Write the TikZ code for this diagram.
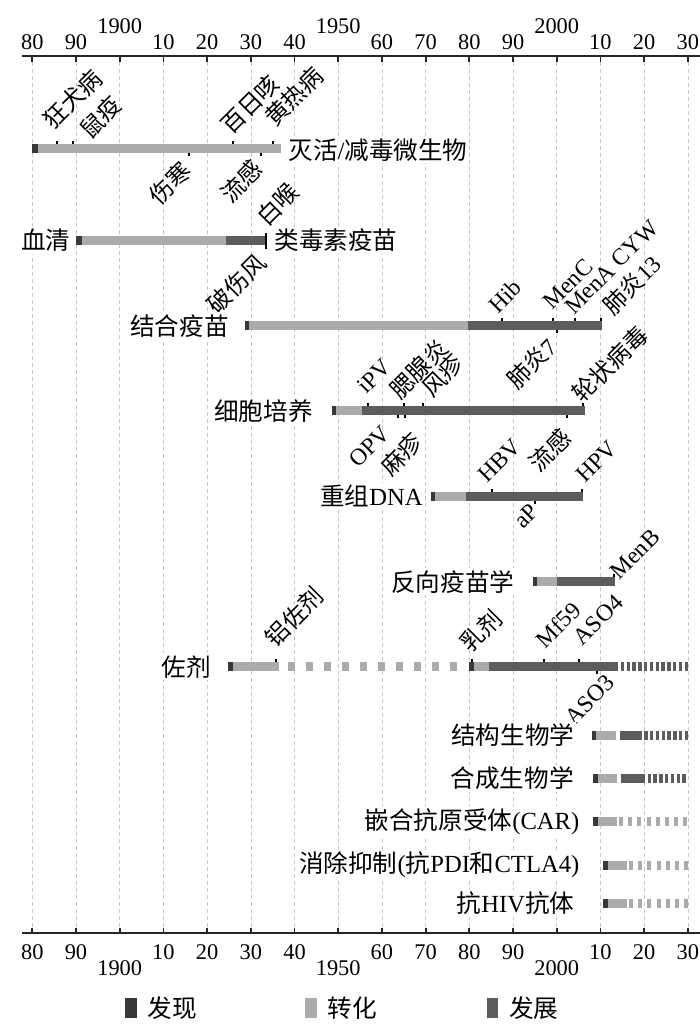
\documentclass[tikz,border=0pt]{standalone}
\usepackage{fontspec}
\setmainfont{Liberation Serif}
\newfontfamily\cjk{Noto Sans CJK SC}
\usetikzlibrary{positioning}
\definecolor{discC}{gray}{0.22}
\definecolor{transC}{gray}{0.67}
\definecolor{develC}{gray}{0.36}
\newcommand{\zh}[1]{{\cjk #1}}
\tikzset{
	row-label/.style={
		fill=white,
		inner sep=1pt,
		font=\fontsize{12.3}{14}\selectfont
	},
	event-label/.style={
		rotate=45,
		inner sep=0pt,
		font=\fontsize{11.8}{13}\selectfont
	},
	year-label/.style={inner sep=0pt, font=\fontsize{11.2}{13}\selectfont},
	legend-box/.style={minimum width=5.8pt, minimum height=10pt, inner sep=0pt},
	legend-text/.style={inner sep=0pt, font=\fontsize{12.3}{14}\selectfont},
	bar/.style={line width=4.5pt},
	disc-bar/.style={bar, draw=discC},
	trans-bar/.style={bar, draw=transC},
	devel-bar/.style={bar, draw=develC},
	trans-dots/.style={trans-bar, dash pattern=on 3.35pt off 5.65pt},
	trans-fine/.style={trans-bar, dash pattern=on 2pt off 2.6pt},
	devel-stripes/.style={devel-bar, dash pattern=on 1.7pt off 1.2pt},
	tick-mark/.style={black, line width=1pt},
	grid-line/.style={gray!45, line width=0.3pt, dash pattern=on 2pt off 1.5pt},
	axis-line/.style={black!85, line width=0.9pt},
}

\begin{document}
\begin{tikzpicture}[x=0.5pt, y=-0.5pt]
	\useasboundingbox (0,0) rectangle (700,1030);
	% axes and grid
	\draw[axis-line] (22,56) -- (700,56);
	\draw[axis-line] (22,933.3) -- (700,933.3);
	\foreach \lab [count=\i from 0] in {80,90,1900,10,20,30,40,1950,60,70,80,90,2000,10,20,30} {
		\pgfmathsetmacro\xx{32.3+43.7*\i}
		\pgfmathsetmacro\ytop{\lab>100 ? 26 : 42}
		\pgfmathsetmacro\ybot{\lab>100 ? 968.3 : 952.3}
		\draw[grid-line] (\xx,62) -- (\xx,928);
		\draw[axis-line] (\xx,56) -- (\xx,62);
		\draw[axis-line] (\xx,927.5) -- (\xx,933.3);
		\node[year-label] (top-\i) at (\xx,\ytop) {\lab};
		\node[year-label] (bot-\i) at (\xx,\ybot) {\lab};
	}

	% inactivated / attenuated
	\draw[disc-bar] (32.3,148) -- (37.7,148);
	\draw[trans-bar] (37.7,148) -- (281,148);
	\foreach \x in {56.7,72.7,233.3,273.3} \draw[tick-mark] (\x,143.5) -- (\x,140.5);
	\foreach \x in {189.3,261} \draw[tick-mark] (\x,152.5) -- (\x,155.5);
	\node[row-label, anchor=west] (inact) at (286,150) {\zh{灭活}/\zh{减毒微生物}};
	\node[event-label] (rab) at (72.5,99) {\zh{狂犬病}};
	\node[event-label] (plg) at (100.5,117) {\zh{鼠疫}};
	\node[event-label] (per) at (250,104) {\zh{百日咳}};
	\node[event-label] (yf) at (294,96.5) {\zh{黄热病}};
	\node[event-label] (typ) at (170,183) {\zh{伤寒}};
	\node[event-label] (flu1) at (241.5,181.5) {\zh{流感}};

	% serum
	\draw[disc-bar] (76,240.5) -- (81.7,240.5);
	\draw[trans-bar] (81.7,240.5) -- (226,240.5);
	\draw[devel-bar] (226,240.5) -- (264.5,240.5);
	\draw[tick-mark] (265.5,232.5) -- (265.5,249);
	\node[row-label, anchor=east] (ser) at (73,240.5) {\zh{血清}};
	\node[row-label, anchor=west] (tox) at (272,240.5) {\zh{类毒素疫苗}};
	\node[event-label] (dip) at (277.5,204) {\zh{白喉}};
	\node[event-label] (tet) at (236.7,284) {\zh{破伤风}};

	% conjugates
	\draw[disc-bar] (245,325.7) -- (249.3,325.7);
	\draw[trans-bar] (249.3,325.7) -- (468.3,325.7);
	\draw[devel-bar] (468.3,325.7) -- (601.7,325.7);
	\foreach \x in {502.3,553.3,575,600.7} \draw[tick-mark] (\x,321.2) -- (\x,318.2);
	\draw[tick-mark] (557.3,330.2) -- (557.3,333.2);
	\node[row-label, anchor=east] (conj) at (231,325.7) {\zh{结合疫苗}};
	\node[event-label] (hib) at (505,296) {Hib};
	\node[event-label] (menc) at (568,284) {MenC};
	\node[event-label] (menacyw) at (611.5,267.5) {MenA CYW};
	\node[event-label] (pn13) at (631.7,285) {\zh{肺炎}13};
	\node[event-label] (pn7) at (531.7,363.3) {\zh{肺炎}7};

	% cell culture
	\draw[disc-bar] (331.7,410.7) -- (336,410.7);
	\draw[trans-bar] (336,410.7) -- (361.7,410.7);
	\draw[devel-bar] (361.7,410.7) -- (585,410.7);
	\foreach \x in {368.3,404,423.3,583.3} \draw[tick-mark] (\x,406.2) -- (\x,403.2);
	\foreach \x in {398.3,405,567.3} \draw[tick-mark] (\x,415.2) -- (\x,418.2);
	\node[row-label, anchor=east] (cell) at (315,410.7) {\zh{细胞培养}};
	\node[event-label] (ipv) at (374,376.5) {iPV};
	\node[event-label] (mum) at (419,369) {\zh{腮腺炎}};
	\node[event-label] (rub) at (442.5,375) {\zh{风疹}};
	\node[event-label] (rota) at (610,364) {\zh{轮状病毒}};
	\node[event-label] (opv) at (369.5,446.5) {OPV};
	\node[event-label] (mea) at (401.5,454) {\zh{麻疹}};
	\node[event-label] (flu2) at (550,450) {\zh{流感}};

	% recombinant DNA
	\draw[disc-bar] (431,496) -- (435,496);
	\draw[trans-bar] (435,496) -- (466,496);
	\draw[devel-bar] (466,496) -- (583.3,496);
	\foreach \x in {492.3,582.3} \draw[tick-mark] (\x,491.5) -- (\x,488.5);
	\draw[tick-mark] (535,500.5) -- (535,503.5);
	\node[row-label, anchor=east] (rdna) at (425,496) {\zh{重组}DNA};
	\node[event-label] (hbv) at (500,460.5) {HBV};
	\node[event-label] (hpv) at (596.7,461.5) {HPV};
	\node[event-label] (ap) at (526,516) {aP};

	% reverse vaccinology
	\draw[disc-bar] (532.7,581.7) -- (537.3,581.7);
	\draw[trans-bar] (537.3,581.7) -- (556.7,581.7);
	\draw[devel-bar] (556.7,581.7) -- (615,581.7);
	\draw[tick-mark] (614,577.2) -- (614,574.2);
	\node[row-label, anchor=east] (rev) at (516.7,581.7) {\zh{反向疫苗学}};
	\node[event-label] (menb) at (635,554) {MenB};

	% adjuvants
	\draw[disc-bar] (228.3,666.7) -- (232.7,666.7);
	\draw[trans-bar] (232.7,666.7) -- (279,666.7);
	\draw[trans-dots] (288.3,666.7) -- (457,666.7);
	\draw[disc-bar] (469.3,666.7) -- (474,666.7);
	\draw[trans-bar] (474,666.7) -- (489.3,666.7);
	\draw[devel-bar] (489.3,666.7) -- (615,666.7);
	\draw[devel-stripes] (615,666.7) -- (688.3,666.7);
	\foreach \x in {275.7,472.3,544.3,579} \draw[tick-mark] (\x,662.2) -- (\x,659.2);
	\draw[tick-mark] (596.7,671.2) -- (596.7,674.2);
	\node[row-label, anchor=east] (adj) at (213.3,666.7) {\zh{佐剂}};
	\node[event-label] (alum) at (294,616.7) {\zh{铝佐剂}};
	\node[event-label] (emul) at (480.8,630.8) {\zh{乳剂}};
	\node[event-label] (mf) at (558.3,625) {Mf59};
	\node[event-label] (aso4) at (598.3,620) {ASO4};
	\node[event-label] (aso3) at (590,700) {ASO3};

	% structural biology
	\draw[disc-bar] (591.7,735) -- (596,735);
	\draw[trans-bar] (596,735) -- (616,735);
	\draw[devel-bar] (620,735) -- (638.3,735);
	\draw[devel-stripes] (638.3,735) -- (688,735);
	\node[row-label, anchor=east] (struct) at (576.7,735) {\zh{结构生物学}};

	% synthetic biology
	\draw[disc-bar] (593.3,778.5) -- (598.3,778.5);
	\draw[trans-bar] (598.3,778.5) -- (616.7,778.5);
	\draw[devel-bar] (620.7,778.5) -- (641.7,778.5);
	\draw[devel-stripes] (641.7,778.5) -- (688,778.5);
	\node[row-label, anchor=east] (synth) at (576,778.5) {\zh{合成生物学}};

	% CAR
	\draw[disc-bar] (593.3,821.5) -- (598.3,821.5);
	\draw[trans-bar] (598.3,821.5) -- (616.7,821.5);
	\draw[trans-fine] (619,821.5) -- (688,821.5);
	\node[row-label, anchor=east] (car) at (581.7,821.5) {\zh{嵌合抗原受体}(CAR)};

	% checkpoint
	\draw[disc-bar] (603.3,865) -- (607.7,865);
	\draw[trans-bar] (607.7,865) -- (626.7,865);
	\draw[trans-fine] (629,865) -- (688,865);
	\node[row-label, anchor=east] (chk) at (581.7,865) {\zh{消除抑制}(\zh{抗}PDI\zh{和}CTLA4)};

	% anti-HIV
	\draw[disc-bar] (603.3,903.5) -- (607.7,903.5);
	\draw[trans-bar] (607.7,903.5) -- (626.7,903.5);
	\draw[trans-fine] (629,903.5) -- (688,903.5);
	\node[row-label, anchor=east] (hiv) at (576.7,903.5) {\zh{抗}HIV\zh{抗体}};

	% legend
	\node[legend-box, fill=discC] (k-disc) at (130.9,1008.3) {};
	\node[legend-text, right=5pt of k-disc] (t-disc) {\zh{发现}};
	\node[legend-box, fill=transC] (k-trans) at (310.9,1008.3) {};
	\node[legend-text, right=5pt of k-trans] (t-trans) {\zh{转化}};
	\node[legend-box, fill=develC] (k-devel) at (492.5,1008.3) {};
	\node[legend-text, right=5pt of k-devel] (t-devel) {\zh{发展}};
\end{tikzpicture}
\end{document}
